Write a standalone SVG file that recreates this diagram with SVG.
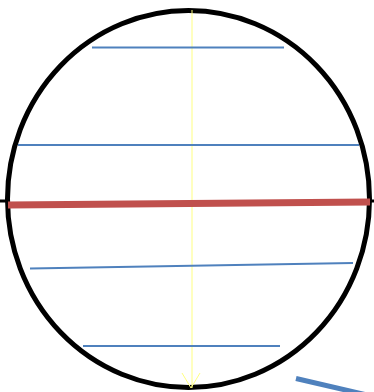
<svg xmlns="http://www.w3.org/2000/svg" width="374" height="392" viewBox="0 0 374 392">
<style>
.blue{stroke:#4F81BD;stroke-width:2;fill:none}
.yl{stroke:#FFFF80;stroke-width:1;fill:none}
.tick{stroke:#000;stroke-width:3}
</style>
<rect width="374" height="392" fill="#fff"/>
<g id="axis-h"><line class="tick" x1="0" y1="201" x2="9" y2="201"/><line class="tick" x1="368" y1="201" x2="374" y2="201"/></g>
<g id="circle"><ellipse cx="188.5" cy="199" rx="181" ry="188.5" fill="none" stroke="#000" stroke-width="5"/></g>
<g id="axis-v">
<line class="yl" x1="192" y1="10" x2="192" y2="388"/>
<polyline class="yl" points="182,373 191,388 200,373"/>
</g>
<g id="lines">
<line class="blue" x1="92" y1="47.5" x2="284" y2="47.5"/>
<line class="blue" x1="18" y1="145" x2="359" y2="145"/>
<line class="blue" x1="30" y1="268.5" x2="353" y2="263"/>
<line class="blue" x1="83" y1="346" x2="280" y2="346"/>
<line x1="8" y1="205" x2="370" y2="202" stroke="#C0504D" stroke-width="7"/>
<line x1="296" y1="378.5" x2="380" y2="398" stroke="#4F81BD" stroke-width="5"/>
</g>
</svg>
